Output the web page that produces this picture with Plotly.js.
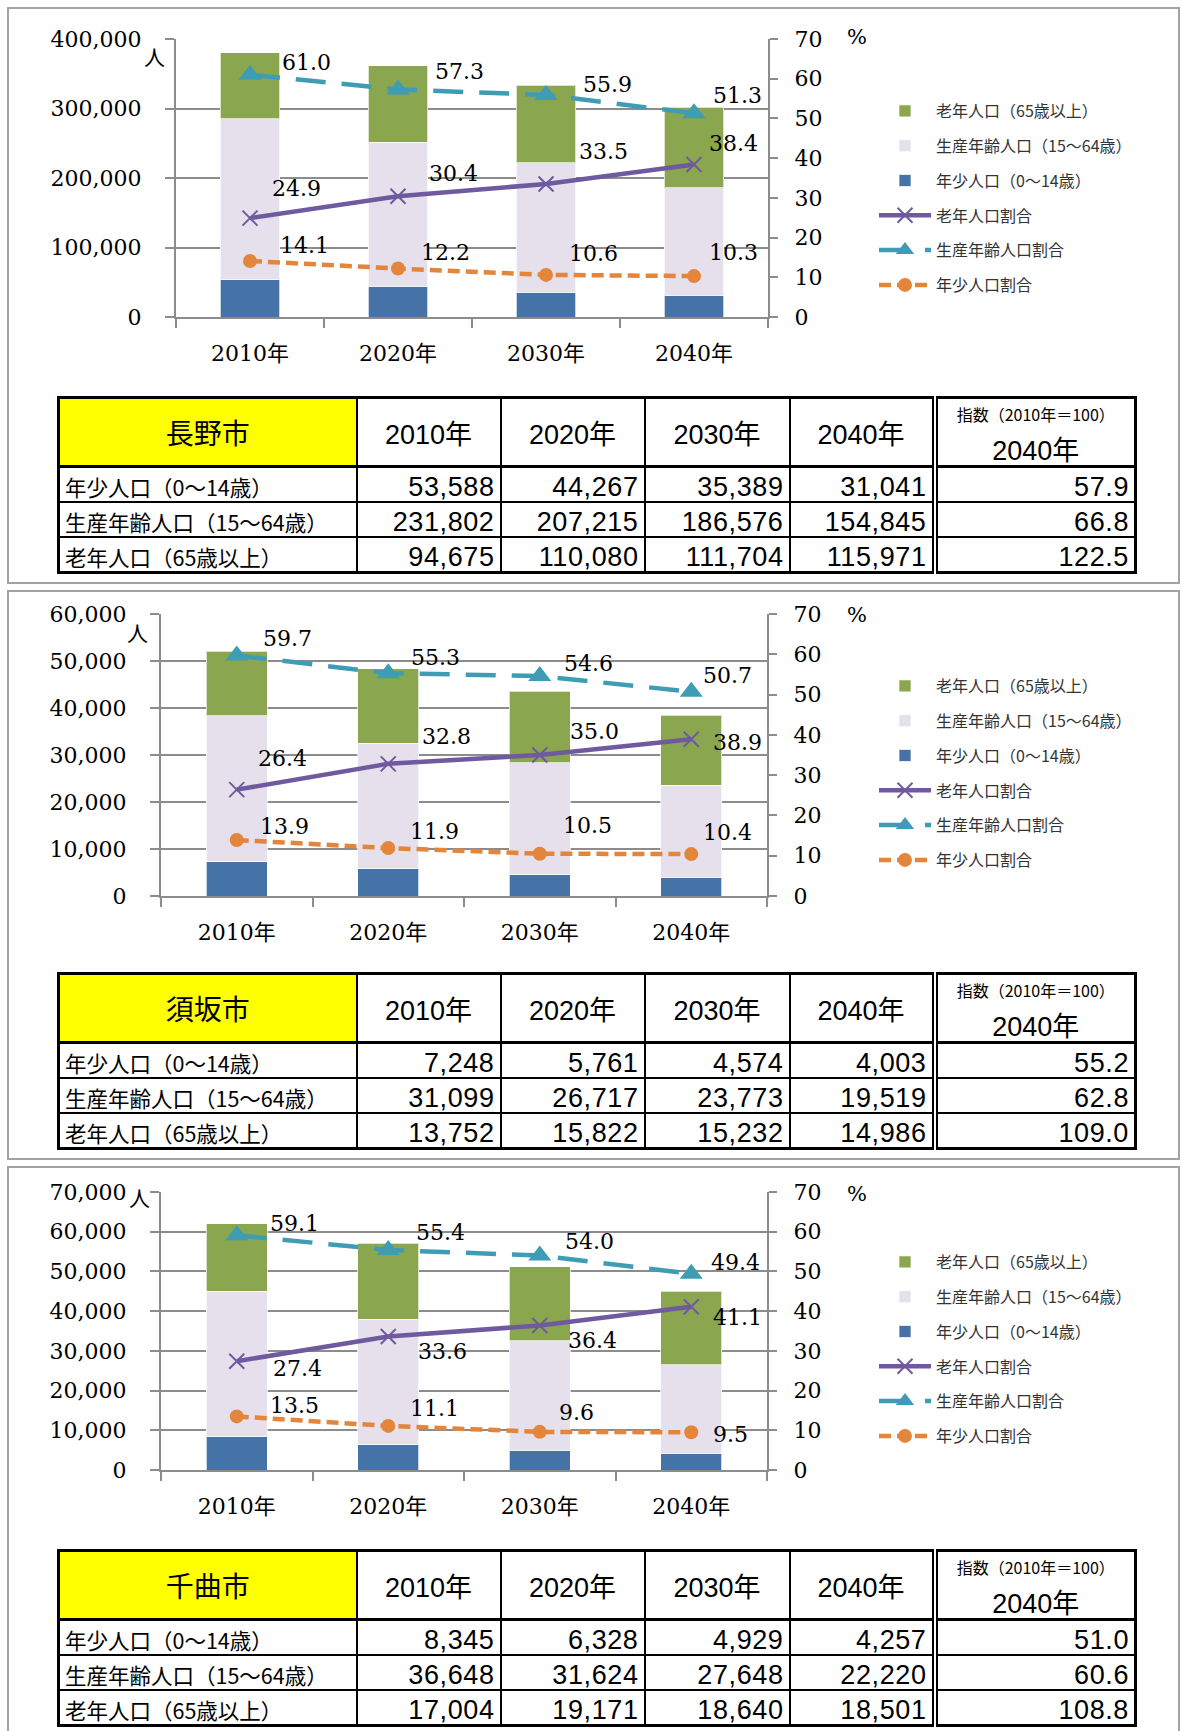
<!DOCTYPE html>
<html><head><meta charset="utf-8">
<script src="https://cdn.plot.ly/plotly-3.0.1.min.js"></script>
<style>
html,body{margin:0;padding:0;background:#fff;}
#wrap{position:relative;width:1182px;height:1731px;overflow:hidden;background:#fff;}
.panel{position:absolute;border:2px solid #a3a3a3;box-sizing:border-box;}
#chart{position:absolute;left:0;top:0;width:1182px;height:1731px;}
table.pop{position:absolute;left:57px;border-collapse:collapse;table-layout:fixed;font-family:"Liberation Sans","Noto Sans CJK JP",sans-serif;color:#000;border:3px solid #000;}
table.pop td{border:2px solid #000;padding:0;overflow:hidden;white-space:nowrap;}
table.pop tr.head td{border-bottom:3px solid #000;text-align:center;vertical-align:middle;font-size:27px;height:66px;}
table.pop tr.head td.city{background:#ffff00;font-family:"Noto Sans CJK JP",sans-serif;font-size:28px;}
table.pop td.dbl{border-right:6px double #000;}
table.pop tr.body td{height:33px;vertical-align:bottom;line-height:28px;}
table.pop td.lab{font-family:"Noto Sans CJK JP",sans-serif;font-size:21.5px;padding-left:5px;text-align:left;line-height:30px;}
table.pop td.num{font-size:27px;text-align:right;padding-right:5px;letter-spacing:0.6px;}
table.pop td.idxh{vertical-align:top !important;}
.idx1{font-family:"Noto Sans CJK JP",sans-serif;font-size:16px;line-height:18px;margin-top:6px;}
.idx2{font-size:27px;line-height:28px;margin-top:14px;}
</style></head>
<body>
<div id="wrap">
  <div class="panel" style="left:7px;top:7px;width:1173px;height:577px;"></div>
  <div class="panel" style="left:7px;top:590px;width:1173px;height:570px;"></div>
  <div class="panel" style="left:7px;top:1166px;width:1173px;height:580px;"></div>
  <div id="chart"></div>
</div>
<script>
// ---------- data ----------
const years = ['2010年','2020年','2030年','2040年'];
const seriesNames = ['老年人口（65歳以上）','生産年齢人口（15～64歳）','年少人口（0～14歳）','老年人口割合','生産年齢人口割合','年少人口割合'];
const rowLabels = ['年少人口（0～14歳）','生産年齢人口（15～64歳）','老年人口（65歳以上）'];
const indexHeader = '指数（2010年＝100）';
const indexYear = '2040年';

const cityNames = ['長野市','須坂市','千曲市'];

const naganoYoung   = [53588, 44267, 35389, 31041];
const naganoWorking = [231802, 207215, 186576, 154845];
const naganoOld     = [94675, 110080, 111704, 115971];
const naganoIndex   = [57.9, 66.8, 122.5];
const naganoOldPct   = [24.9, 30.4, 33.5, 38.4];
const naganoWorkPct  = [61.0, 57.3, 55.9, 51.3];
const naganoYoungPct = [14.1, 12.2, 10.6, 10.3];

const suzakaYoung   = [7248, 5761, 4574, 4003];
const suzakaWorking = [31099, 26717, 23773, 19519];
const suzakaOld     = [13752, 15822, 15232, 14986];
const suzakaIndex   = [55.2, 62.8, 109.0];
const suzakaOldPct   = [26.4, 32.8, 35.0, 38.9];
const suzakaWorkPct  = [59.7, 55.3, 54.6, 50.7];
const suzakaYoungPct = [13.9, 11.9, 10.5, 10.4];

const chikumaYoung   = [8345, 6328, 4929, 4257];
const chikumaWorking = [36648, 31624, 27648, 22220];
const chikumaOld     = [17004, 19171, 18640, 18501];
const chikumaIndex   = [51.0, 60.6, 108.8];
const chikumaOldPct   = [27.4, 33.6, 36.4, 41.1];
const chikumaWorkPct  = [59.1, 55.4, 54.0, 49.4];
const chikumaYoungPct = [13.5, 11.1, 9.6, 9.5];

const leftMax = [400000, 60000, 70000];
const leftStep = [100000, 10000, 10000];
const rightMax = 70;

// ---------- style / layout ----------
const W = 1182, H = 1731;
const px = v => v / W;
const py = v => 1 - v / H;
const COL = {old:'#8aa64e', work:'#e5e0ec', young:'#4573a8', oldPct:'#6f5a9f', workPct:'#3f9cb5', youngPct:'#e3853b'};
const GRID = '#8c8c8c';
const serif = 'DejaVu Serif, Noto Sans CJK JP';
const jp = 'Noto Sans CJK JP';

const plots = [
  {x:[176,768], y:[39,317], legendTop:94, unitY:[154,56], pctY:37},
  {x:[161,767], y:[614,896], legendTop:669, unitY:[137,632], pctY:615},
  {x:[161,767], y:[1192,1470], legendTop:1245, unitY:[139,1197], pctY:1194}
];
// label offsets [dx, dy] (px) for work / old / young ratio labels
const labelOffsets = [
  {work:[[33,-12],[38,-18],[38,-11],[20,-18]], old:[[23,-30],[32,-23],[34,-32],[16,-21]], young:[[31,-16],[24,-16],[24,-21],[16,-24]]},
  {work:[[27,-17],[24,-16],[25,-13],[13,-16]], old:[[22,-31],[35,-27],[31,-24],[23,3]], young:[[24,-14],[23,-17],[24,-28],[13,-22]]},
  {work:[[34,-12],[29,-17],[26,-14],[21,-11]], old:[[37,7],[31,15],[29,15],[23,11]], young:[[34,-11],[23,-17],[20,-19],[23,2]]}
];

const cities = [
  {young:naganoYoung, work:naganoWorking, old:naganoOld, oldPct:naganoOldPct, workPct:naganoWorkPct, youngPct:naganoYoungPct, index:naganoIndex},
  {young:suzakaYoung, work:suzakaWorking, old:suzakaOld, oldPct:suzakaOldPct, workPct:suzakaWorkPct, youngPct:suzakaYoungPct, index:suzakaIndex},
  {young:chikumaYoung, work:chikumaWorking, old:chikumaOld, oldPct:chikumaOldPct, workPct:chikumaWorkPct, youngPct:chikumaYoungPct, index:chikumaIndex}
];

const traces = [];
const layout = {
  width: W, height: H, margin:{l:0,r:0,t:0,b:0},
  paper_bgcolor:'rgba(0,0,0,0)', plot_bgcolor:'rgba(0,0,0,0)',
  barmode:'stack', bargap:0.6, showlegend:true, hovermode:false,
  font:{family:serif, size:22, color:'#000'},
  annotations:[]
};

cities.forEach((c, i) => {
  const n = i + 1;
  const p = plots[i];
  const xa = n === 1 ? 'x' : 'x' + n;
  const yl = n === 1 ? 'y' : 'y' + (2*n - 1);
  const yr = 'y' + (2*n);
  const lg = n === 1 ? 'legend' : 'legend' + n;
  const k = (s) => s + n;
  const bar = (vals, color, name, rank) => ({
    type:'bar', x:years, y:vals, xaxis:xa, yaxis:yl, name:name,
    marker:{color:color, line:{width:1, color:'rgba(255,255,255,0.7)'}},
    legend:lg, legendrank:rank, legendgroup:k(name)
  });
  traces.push(bar(c.young, COL.young, seriesNames[2], 3));
  traces.push(bar(c.work, COL.work, seriesNames[1], 2));
  traces.push(bar(c.old, COL.old, seriesNames[0], 1));
  traces.push({type:'scatter', mode:'lines+markers', x:years, y:c.oldPct, xaxis:xa, yaxis:yr, name:seriesNames[3],
    line:{color:COL.oldPct, width:4.5}, marker:{symbol:'x-thin', size:15, color:COL.oldPct, line:{width:2, color:COL.oldPct}},
    legend:lg, legendrank:4, legendgroup:k(seriesNames[3])});
  traces.push({type:'scatter', mode:'lines+markers', x:years, y:c.workPct, xaxis:xa, yaxis:yr, name:seriesNames[4],
    line:{color:COL.workPct, width:4.5, dash:'30px,16px'}, marker:{symbol:'triangle-up', size:20, color:COL.workPct},
    legend:lg, legendrank:5, legendgroup:k(seriesNames[4])});
  traces.push({type:'scatter', mode:'lines+markers', x:years, y:c.youngPct, xaxis:xa, yaxis:yr, name:seriesNames[5],
    line:{color:COL.youngPct, width:4.5, dash:'12px,6px'}, marker:{symbol:'circle', size:14, color:COL.youngPct},
    legend:lg, legendrank:6, legendgroup:k(seriesNames[5])});

  const xKey = n === 1 ? 'xaxis' : 'xaxis' + n;
  const ylKey = n === 1 ? 'yaxis' : 'yaxis' + (2*n - 1);
  const yrKey = 'yaxis' + (2*n);
  layout[xKey] = {
    type:'category', domain:[px(p.x[0]), px(p.x[1])], anchor:yl,
    showgrid:false, showline:true, linecolor:GRID, linewidth:2,
    ticks:'outside', tickson:'boundaries', ticklen:9, tickwidth:2, tickcolor:GRID,
    tickfont:{family:serif, size:22, color:'#000'}, ticklabelstandoff:16, fixedrange:true
  };
  layout[ylKey] = {
    domain:[py(p.y[1]), py(p.y[0])], anchor:xa, range:[0, leftMax[i]], dtick:leftStep[i], tick0:0,
    tickformat:',d', showgrid:true, gridcolor:GRID, gridwidth:2, zeroline:false,
    showline:true, linecolor:GRID, linewidth:2, ticks:'outside', ticklen:9, tickwidth:2, tickcolor:GRID,
    tickfont:{family:serif, size:22, color:'#000'}, ticklabelstandoff:19, fixedrange:true
  };
  layout[yrKey] = {
    overlaying:yl, side:'right', anchor:xa, range:[0, rightMax], dtick:10, tick0:0,
    showgrid:false, zeroline:false, showline:true, linecolor:GRID, linewidth:2,
    ticks:'outside', ticklen:8, tickwidth:2, tickcolor:GRID,
    tickfont:{family:serif, size:22, color:'#000'}, ticklabelstandoff:12, fixedrange:true
  };
  layout[lg] = {
    x:px(874), y:py(p.legendTop), xanchor:'left', yanchor:'top',
    font:{family:jp, size:16, color:'#333'}, itemwidth:52, tracegroupgap:11,
    bgcolor:'rgba(0,0,0,0)', traceorder:'grouped', itemclick:false, itemdoubleclick:false
  };

  // data labels
  const addLabels = (vals, offs) => vals.forEach((v, j) => {
    layout.annotations.push({xref:xa, yref:yr, x:years[j], y:v, text:v.toFixed(1), showarrow:false,
      xanchor:'left', yanchor:'middle', xshift:offs[j][0] - 3, yshift:-offs[j][1],
      font:{family:serif, size:22, color:'#000'}});
  });
  addLabels(c.workPct, labelOffsets[i].work);
  addLabels(c.oldPct, labelOffsets[i].old);
  addLabels(c.youngPct, labelOffsets[i].young);

  layout.annotations.push({xref:'paper', yref:'paper', x:px(p.unitY[0]), y:py(p.unitY[1]), text:'人', showarrow:false,
    xanchor:'center', yanchor:'middle', font:{family:jp, size:21, color:'#000'}});
  layout.annotations.push({xref:'paper', yref:'paper', x:px(857), y:py(p.pctY), text:'%', showarrow:false,
    xanchor:'center', yanchor:'middle', font:{family:serif, size:21, color:'#000'}});
});

Plotly.newPlot('chart', traces, layout, {staticPlot:true, displayModeBar:false});

// ---------- tables ----------
const tableTops = [396, 972, 1549];
const fmt = v => v.toLocaleString('en-US');
const colW = [298, 144, 144, 145, 145, 201];
cities.forEach((c, i) => {
  const t = document.createElement('table');
  t.className = 'pop';
  t.style.top = tableTops[i] + 'px';
  const cg = document.createElement('colgroup');
  colW.forEach(w => { const col = document.createElement('col'); col.style.width = w + 'px'; cg.appendChild(col); });
  t.appendChild(cg);
  const hr = document.createElement('tr'); hr.className = 'head';
  let td = document.createElement('td'); td.className = 'city'; td.textContent = cityNames[i]; hr.appendChild(td);
  years.forEach((y, j) => { td = document.createElement('td'); td.textContent = y; if (j === 3) td.className = 'dbl'; hr.appendChild(td); });
  td = document.createElement('td'); td.className = 'idxh';
  td.innerHTML = '<div class="idx1"></div><div class="idx2"></div>';
  td.children[0].textContent = indexHeader; td.children[1].textContent = indexYear;
  hr.appendChild(td);
  t.appendChild(hr);
  const rows = [c.young, c.work, c.old];
  rows.forEach((vals, r) => {
    const tr = document.createElement('tr'); tr.className = 'body';
    let d = document.createElement('td'); d.className = 'lab'; d.textContent = rowLabels[r]; tr.appendChild(d);
    vals.forEach((v, j) => { d = document.createElement('td'); d.className = 'num' + (j === 3 ? ' dbl' : ''); d.textContent = fmt(v); tr.appendChild(d); });
    d = document.createElement('td'); d.className = 'num'; d.textContent = c.index[r].toFixed(1); tr.appendChild(d);
    t.appendChild(tr);
  });
  document.getElementById('wrap').appendChild(t);
});
</script>
</body></html>
